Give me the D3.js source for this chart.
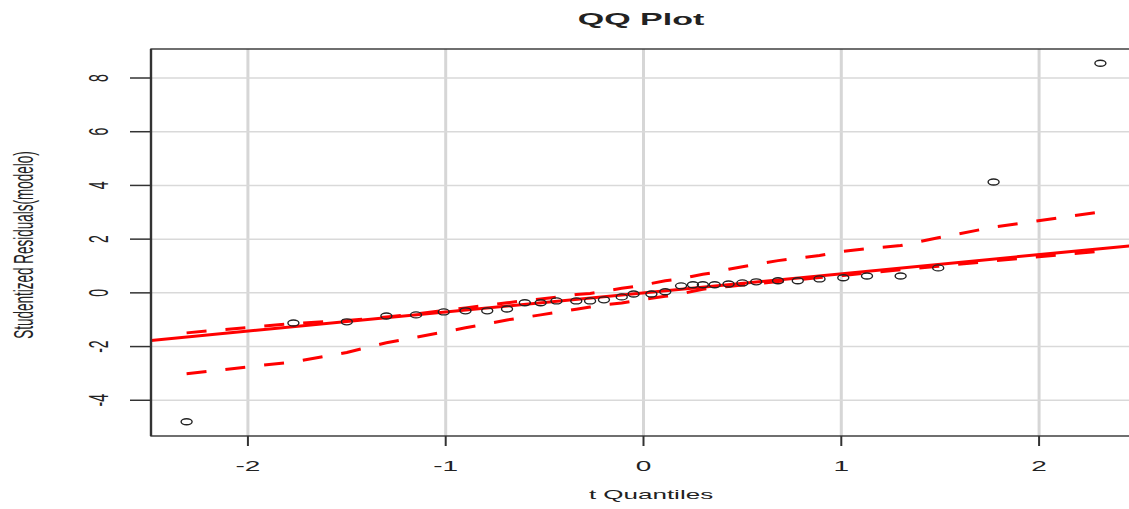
<!DOCTYPE html>
<html>
<head>
<meta charset="utf-8">
<script src="https://cdn.jsdelivr.net/npm/d3@7"></script>
<style>
  html, body { margin: 0; padding: 0; background: #fff; }
  svg { display: block; }
  text { font-family: "Liberation Sans", Arial, sans-serif; fill: #222; }
</style>
</head>
<body>
<div id="viz"></div>
<script>
// t quantiles (x) and sorted studentized residuals (y)
var tQuantiles = [-2.31, -1.77, -1.50, -1.30, -1.15, -1.01, -0.90, -0.79, -0.69, -0.60,
                  -0.52, -0.44, -0.34, -0.27, -0.20, -0.11, -0.05, 0.04, 0.11, 0.19,
                  0.25, 0.30, 0.36, 0.43, 0.50, 0.57, 0.68, 0.78, 0.89, 1.01,
                  1.13, 1.30, 1.49, 1.77, 2.31],
    residuals  = [-4.80, -1.12, -1.08, -0.86, -0.82, -0.71, -0.67, -0.67, -0.60, -0.37,
                  -0.37, -0.30, -0.30, -0.30, -0.26, -0.15, -0.04, -0.04, 0.04, 0.26,
                  0.30, 0.30, 0.30, 0.33, 0.37, 0.41, 0.45, 0.45, 0.52, 0.56,
                  0.63, 0.63, 0.93, 4.13, 8.55],
    envUpper   = [-1.49, -1.14, -1.03, -0.90, -0.78, -0.66, -0.56, -0.46, -0.37, -0.29,
                  -0.23, -0.16, -0.06, -0.02, 0.06, 0.17, 0.23, 0.35, 0.45, 0.52,
                  0.62, 0.69, 0.76, 0.88, 0.97, 1.06, 1.20, 1.29, 1.39, 1.55,
                  1.65, 1.76, 2.05, 2.45, 3.01],
    envLower   = [-3.01, -2.57, -2.22, -1.86, -1.65, -1.46, -1.30, -1.15, -1.01, -0.91,
                  -0.82, -0.73, -0.61, -0.53, -0.45, -0.38, -0.30, -0.20, -0.13, -0.04,
                  0.06, 0.13, 0.19, 0.24, 0.29, 0.34, 0.42, 0.49, 0.57, 0.65,
                  0.74, 0.86, 0.99, 1.19, 1.55],
    refLine    = {intercept: 0.0, slope: 0.712},
    xTicks     = [-2, -1, 0, 1, 2],
    yTicks     = [-4, -2, 0, 2, 4, 6, 8];

var W = 1129, H = 509,
    SX = 2,   // the reference is stretched sideways
    pLeft = 151, pRight = 1136, pTop = 49, pBottom = 436;

var x = d3.scaleLinear().domain([-2.49, 2.49]).range([pLeft, pRight]),
    y = d3.scaleLinear().domain([-5.33, 9.08]).range([pBottom, pTop]);

var svg = d3.select('#viz')
    .append('svg')
        .attr('width', W)
        .attr('height', H);

svg.append('rect')
    .attr('width', W).attr('height', H)
    .attr('fill', '#fff');

svg.append('defs')
    .append('clipPath').attr('id', 'plotClip')
    .append('rect')
        .attr('x', pLeft).attr('y', pTop)
        .attr('width', pRight - pLeft).attr('height', pBottom - pTop);

// grid
var grid = svg.append('g').attr('class', 'grid');
grid.selectAll('line.gx')
    .data(xTicks).enter().append('line')
        .attr('class', 'gx')
        .attr('x1', function (d) { return x(d); })
        .attr('x2', function (d) { return x(d); })
        .attr('y1', pTop).attr('y2', pBottom)
        .style('stroke', '#d6d6d6')
        .style('stroke-width', 3);
grid.selectAll('line.gy')
    .data(yTicks).enter().append('line')
        .attr('class', 'gy')
        .attr('x1', pLeft).attr('x2', pRight)
        .attr('y1', function (d) { return y(d); })
        .attr('y2', function (d) { return y(d); })
        .style('stroke', '#d9d9d9')
        .style('stroke-width', 1.5);

var plot = svg.append('g').attr('clip-path', 'url(#plotClip)');

// reference line
plot.append('line')
    .attr('x1', x(-2.49)).attr('y1', y(refLine.intercept + refLine.slope * -2.49))
    .attr('x2', x(2.49)).attr('y2', y(refLine.intercept + refLine.slope * 2.49))
    .style('stroke', '#ff0000')
    .style('stroke-width', 3);

// envelope
var envPath = function (vals) {
    return d3.line()
        .x(function (d, i) { return x(tQuantiles[i]); })
        .y(function (d) { return y(d); })(vals);
};
[envUpper, envLower].forEach(function (vals) {
    plot.append('path')
        .attr('d', envPath(vals))
        .style('fill', 'none')
        .style('stroke', '#ff0000')
        .style('stroke-width', 3)
        .style('stroke-dasharray', '20,19');
});

// points
plot.selectAll('ellipse')
    .data(residuals).enter().append('ellipse')
        .attr('cx', function (d, i) { return x(tQuantiles[i]); })
        .attr('cy', function (d) { return y(d); })
        .attr('rx', 5.5)
        .attr('ry', 3)
        .style('fill', 'none')
        .style('stroke', '#222')
        .style('stroke-width', 1.4);

// frame (right edge falls outside the window)
svg.append('rect')
    .attr('x', pLeft).attr('y', pTop)
    .attr('width', pRight - pLeft).attr('height', pBottom - pTop)
    .style('fill', 'none')
    .style('stroke', '#333')
    .style('stroke-width', 1.4);
svg.append('line')
    .attr('x1', pLeft).attr('x2', pLeft)
    .attr('y1', pTop).attr('y2', pBottom)
    .style('stroke', '#333')
    .style('stroke-width', 2.4);

// ticks + labels
var axes = svg.append('g').attr('class', 'axes');
axes.selectAll('line.tx')
    .data(xTicks).enter().append('line')
        .attr('class', 'tx')
        .attr('x1', function (d) { return x(d); })
        .attr('x2', function (d) { return x(d); })
        .attr('y1', pBottom).attr('y2', pBottom + 10)
        .style('stroke', '#333')
        .style('stroke-width', 2);
axes.selectAll('text.lx')
    .data(xTicks).enter().append('text')
        .attr('class', 'lx')
        .attr('text-anchor', 'middle')
        .attr('font-size', 14)
        .attr('transform', function (d) { return 'translate(' + x(d) + ',471) scale(' + SX + ',1)'; })
        .text(function (d) { return d < 0 ? '-' + Math.abs(d) : d; });

axes.selectAll('line.ty')
    .data(yTicks).enter().append('line')
        .attr('class', 'ty')
        .attr('x1', pLeft - 21).attr('x2', pLeft)
        .attr('y1', function (d) { return y(d); })
        .attr('y2', function (d) { return y(d); })
        .style('stroke', '#333')
        .style('stroke-width', 1.5);
axes.selectAll('text.ly')
    .data(yTicks).enter().append('text')
        .attr('class', 'ly')
        .attr('text-anchor', 'middle')
        .attr('font-size', 14)
        .attr('transform', function (d) { return 'translate(108,' + y(d) + ') scale(' + SX + ',1) rotate(-90)'; })
        .text(function (d) { return d < 0 ? '-' + Math.abs(d) : d; });

// titles
svg.append('text')
    .attr('text-anchor', 'middle')
    .attr('font-size', 17)
    .attr('font-weight', 'bold')
    .attr('transform', 'translate(641,25) scale(' + SX + ',1)')
    .text('QQ Plot');

svg.append('text')
    .attr('text-anchor', 'middle')
    .attr('font-size', 13)
    .attr('transform', 'translate(651,499) scale(' + SX + ',1)')
    .text('t Quantiles');

svg.append('text')
    .attr('text-anchor', 'middle')
    .attr('font-size', 13.5)
    .attr('transform', 'translate(33,245) scale(' + SX + ',1) rotate(-90)')
    .text('Studentized Residuals(modelo)');
</script>
</body>
</html>
